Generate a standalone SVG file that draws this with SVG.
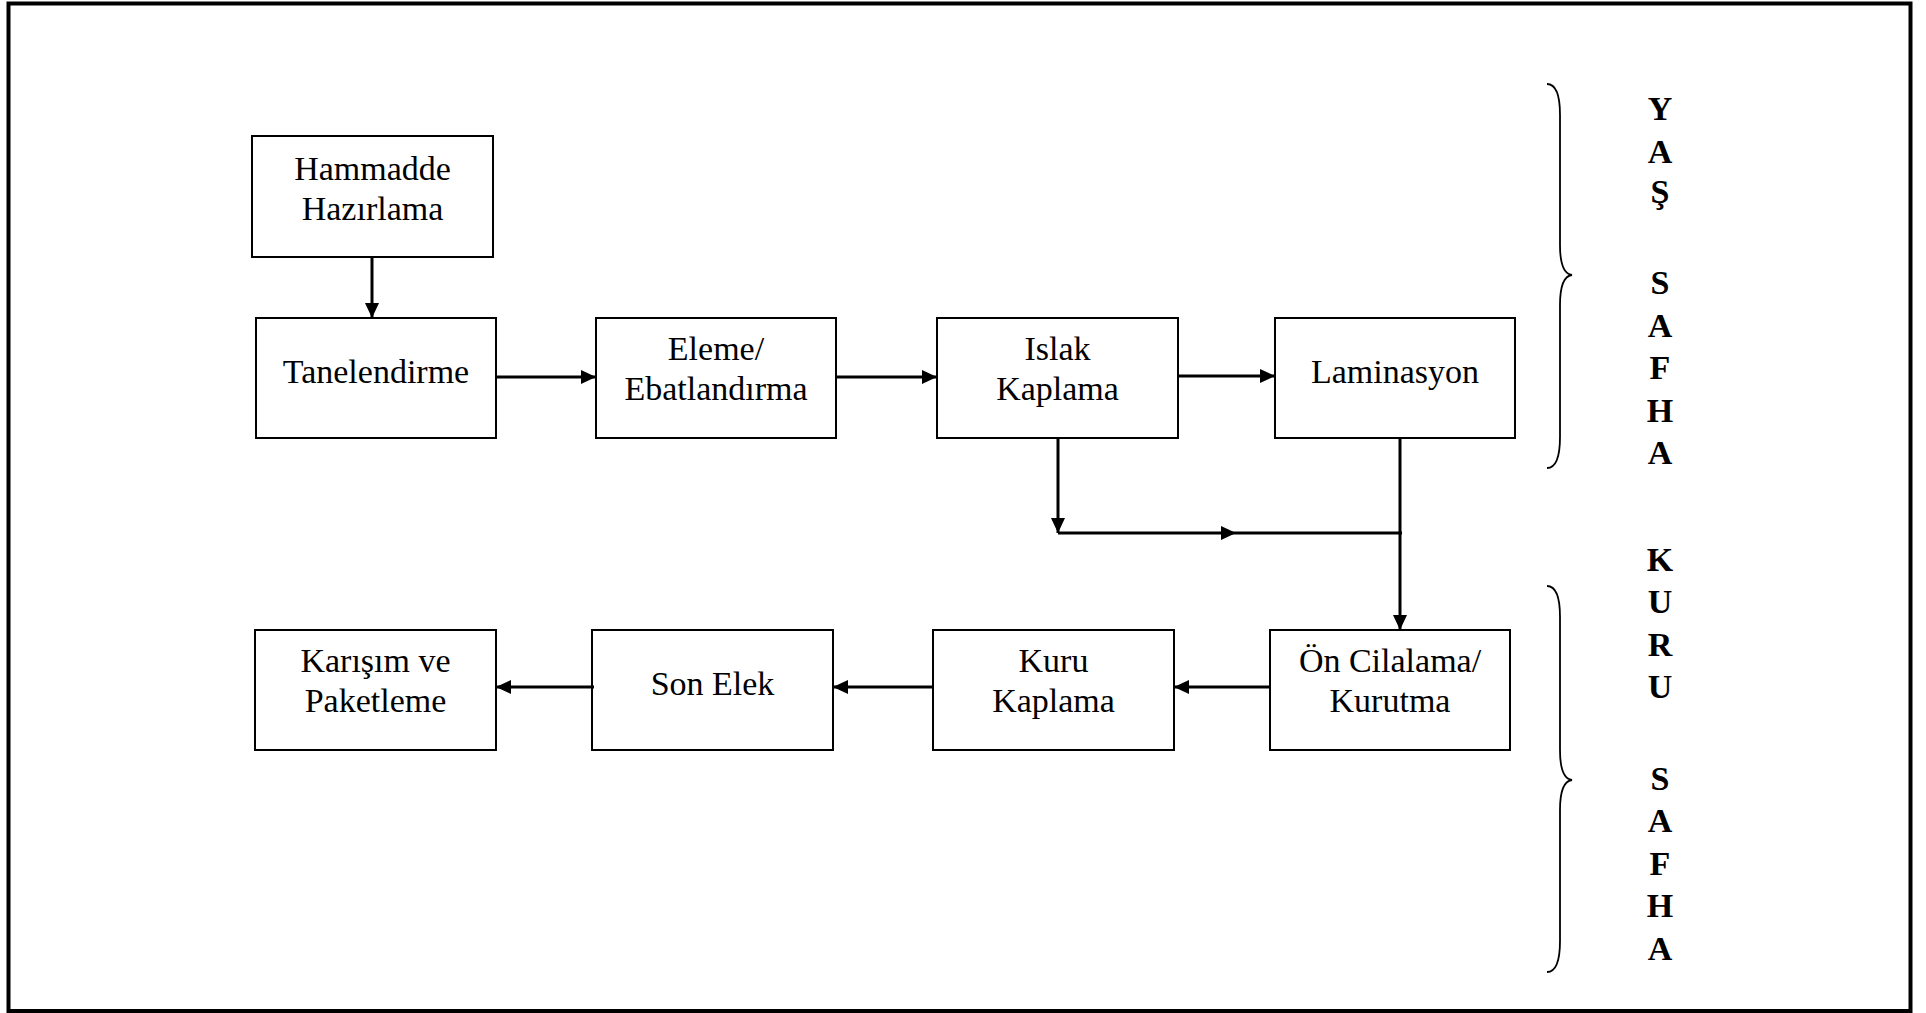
<svg xmlns="http://www.w3.org/2000/svg" width="1926" height="1013" viewBox="0 0 1926 1013">
<style>
  .box { fill: #fff; stroke: #000; stroke-width: 2; }
  .lbl { font-family: "Liberation Serif", "Times New Roman", serif; font-size: 34px; fill: #000; text-anchor: middle; }
  .side { font-family: "Liberation Serif", "Times New Roman", serif; font-size: 34px; font-weight: bold; fill: #000; text-anchor: middle; }
  .con { fill: none; stroke: #000; stroke-width: 3; }
  .brace { fill: none; stroke: #000; stroke-width: 1.8; }
</style>
<defs>
  <marker id="ah" markerUnits="userSpaceOnUse" markerWidth="16" markerHeight="14" refX="15" refY="7" orient="auto">
    <path d="M0,0 L15,7 L0,14 z" fill="#000"/>
  </marker>
</defs>
<rect x="0" y="0" width="1926" height="1013" fill="#fff"/>
<rect id="frame" x="8.5" y="3.5" width="1902" height="1007.5" fill="none" stroke="#000" stroke-width="4"/>

<g id="n-hammadde">
  <rect class="box" x="252" y="136" width="241" height="121"/>
  <text class="lbl" x="372.5" y="180">Hammadde</text>
  <text class="lbl" x="372.5" y="220">Hazırlama</text>
</g>
<g id="n-tanelendirme">
  <rect class="box" x="256" y="318" width="240" height="120"/>
  <text class="lbl" x="376" y="383">Tanelendirme</text>
</g>
<g id="n-eleme">
  <rect class="box" x="596" y="318" width="240" height="120"/>
  <text class="lbl" x="716" y="360">Eleme/</text>
  <text class="lbl" x="716" y="400">Ebatlandırma</text>
</g>
<g id="n-islak">
  <rect class="box" x="937" y="318" width="241" height="120"/>
  <text class="lbl" x="1057.5" y="360">Islak</text>
  <text class="lbl" x="1057.5" y="400">Kaplama</text>
</g>
<g id="n-laminasyon">
  <rect class="box" x="1275" y="318" width="240" height="120"/>
  <text class="lbl" x="1395" y="383">Laminasyon</text>
</g>
<g id="n-oncilalama">
  <rect class="box" x="1270" y="630" width="240" height="120"/>
  <text class="lbl" x="1390" y="672">Ön Cilalama/</text>
  <text class="lbl" x="1390" y="712">Kurutma</text>
</g>
<g id="n-kurukaplama">
  <rect class="box" x="933" y="630" width="241" height="120"/>
  <text class="lbl" x="1053.5" y="672">Kuru</text>
  <text class="lbl" x="1053.5" y="712">Kaplama</text>
</g>
<g id="n-sonelek">
  <rect class="box" x="592" y="630" width="241" height="120"/>
  <text class="lbl" x="712.5" y="695">Son Elek</text>
</g>
<g id="n-karisim">
  <rect class="box" x="255" y="630" width="241" height="120"/>
  <text class="lbl" x="375.5" y="672">Karışım ve</text>
  <text class="lbl" x="375.5" y="712">Paketleme</text>
</g>

<g id="connectors">
  <path class="con" d="M372,257 L372,318" marker-end="url(#ah)"/>
  <path class="con" d="M496,377 L596,377" marker-end="url(#ah)"/>
  <path class="con" d="M836,377 L937,377" marker-end="url(#ah)"/>
  <path class="con" d="M1178,376 L1275,376" marker-end="url(#ah)"/>
  <path class="con" d="M1058,438 L1058,533" marker-end="url(#ah)"/>
  <path class="con" d="M1058,533 L1236,533" marker-end="url(#ah)"/>
  <path class="con" d="M1236,533 L1402,533"/>
  <path class="con" d="M1400,438 L1400,630" marker-end="url(#ah)"/>
  <path class="con" d="M1270,687 L1174,687" marker-end="url(#ah)"/>
  <path class="con" d="M933,687 L833,687" marker-end="url(#ah)"/>
  <path class="con" d="M594,687 L496,687" marker-end="url(#ah)"/>
</g>

<g id="brace-yas">
  <path class="brace" d="M1547,84 C1556,84 1560,95 1560,115 L1560,245 C1560,265 1564,274 1572,275 C1564,276 1560,285 1560,305 L1560,437 C1560,457 1556,468 1547,468"/>
  <text class="side" x="1660" y="120">Y</text>
  <text class="side" x="1660" y="163">A</text>
  <text class="side" x="1660" y="203">Ş</text>
  <text class="side" x="1660" y="294">S</text>
  <text class="side" x="1660" y="337">A</text>
  <text class="side" x="1660" y="379">F</text>
  <text class="side" x="1660" y="422">H</text>
  <text class="side" x="1660" y="464">A</text>
</g>
<g id="brace-kuru">
  <path class="brace" d="M1547,586 C1556,586 1560,597 1560,617 L1560,750 C1560,770 1564,779 1572,780 C1564,781 1560,790 1560,810 L1560,941 C1560,961 1556,972 1547,972"/>
  <text class="side" x="1660" y="571">K</text>
  <text class="side" x="1660" y="613">U</text>
  <text class="side" x="1660" y="656">R</text>
  <text class="side" x="1660" y="698">U</text>
  <text class="side" x="1660" y="790">S</text>
  <text class="side" x="1660" y="832">A</text>
  <text class="side" x="1660" y="875">F</text>
  <text class="side" x="1660" y="917">H</text>
  <text class="side" x="1660" y="960">A</text>
</g>
</svg>
